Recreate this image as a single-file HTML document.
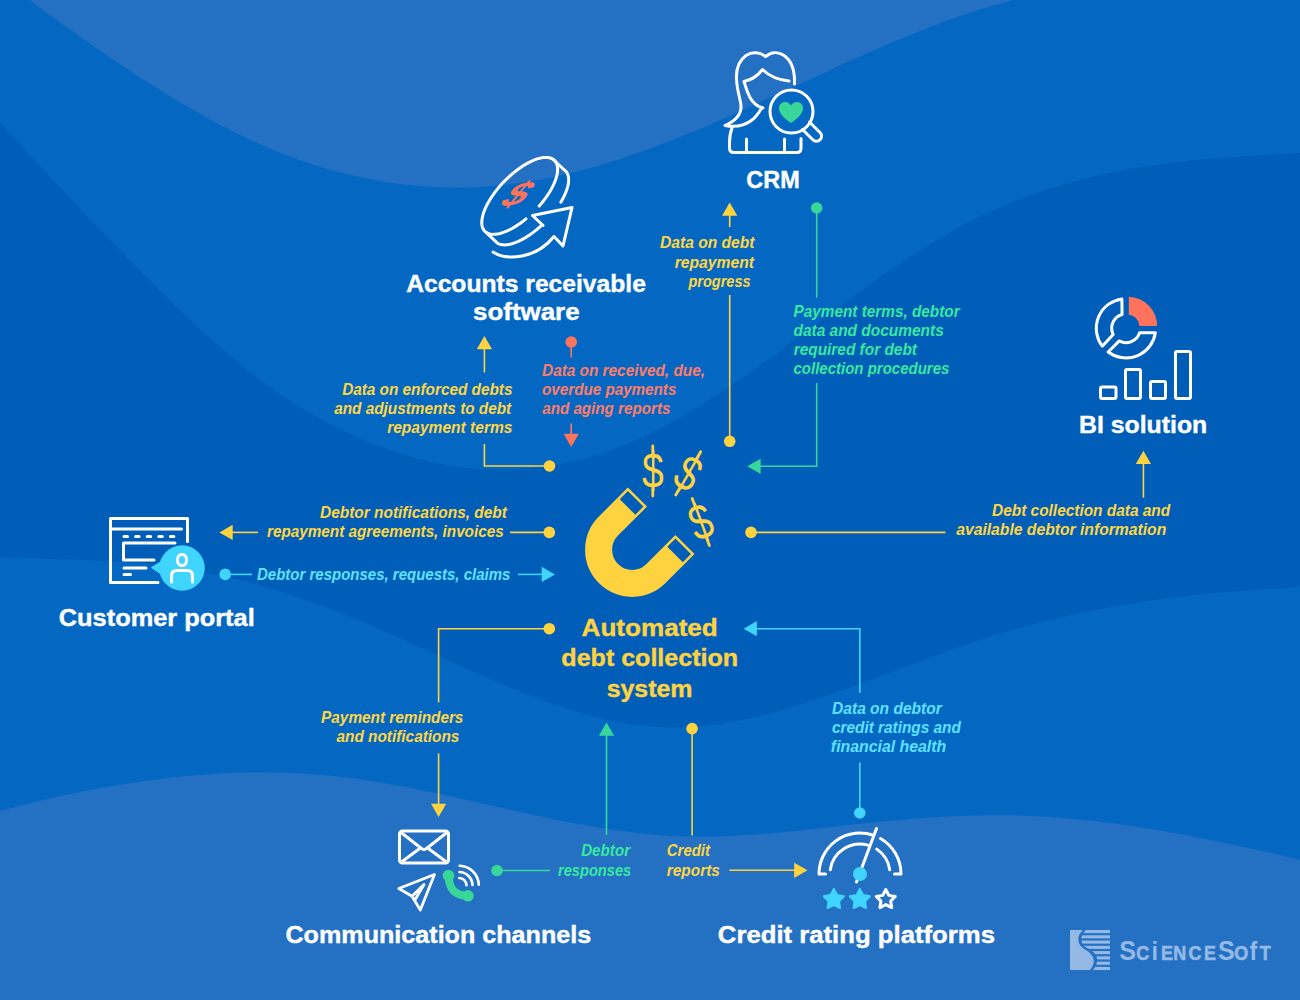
<!DOCTYPE html>
<html lang="en">
<head>
<meta charset="utf-8">
<title>Automated debt collection system</title>
<style>
html,body{margin:0;padding:0;background:#0468c3;}
body{width:1300px;height:1000px;overflow:hidden;}
svg{display:block;}
.h{font-family:"Liberation Sans",sans-serif;font-weight:bold;stroke-width:0.4px;}
.l{font-family:"Liberation Sans",sans-serif;font-weight:bold;font-style:italic;stroke-width:0;}
</style>
</head>
<body>
<svg width="1300" height="1000" viewBox="0 0 1300 1000">
<g id="bg">
<rect width="1300" height="1000" fill="#0468c3"/>
<path d="M-12.0,-30.0 C-8.7,-27.6 1.4,-20.3 8.0,-15.4 C14.7,-10.5 21.4,-5.7 28.1,-0.8 C34.8,4.1 41.4,8.9 48.1,13.7 C54.8,18.6 61.5,23.4 68.1,28.1 C74.8,32.9 81.5,37.6 88.2,42.3 C94.9,47.0 101.5,51.6 108.2,56.2 C114.9,60.7 121.6,65.3 128.3,69.7 C134.9,74.1 141.6,78.5 148.3,82.8 C155.0,87.0 161.7,91.2 168.3,95.3 C175.0,99.4 181.7,103.4 188.4,107.3 C195.0,111.2 201.7,115.0 208.4,118.6 C215.1,122.3 221.8,125.8 228.4,129.2 C235.1,132.6 241.8,135.9 248.5,139.0 C255.2,142.2 261.8,145.2 268.5,148.0 C275.2,150.8 281.9,153.5 288.6,156.0 C295.2,158.5 301.9,160.9 308.6,163.1 C315.3,165.3 322.0,167.4 328.6,169.3 C335.3,171.2 342.0,173.0 348.7,174.6 C355.3,176.2 362.0,177.7 368.7,179.0 C375.4,180.3 382.1,181.5 388.7,182.5 C395.4,183.5 402.1,184.4 408.8,185.1 C415.5,185.8 422.1,186.3 428.8,186.7 C435.5,187.2 442.2,187.4 448.9,187.5 C455.5,187.6 462.2,187.6 468.9,187.4 C475.6,187.2 482.2,186.9 488.9,186.4 C495.6,185.9 502.3,185.3 509.0,184.5 C515.6,183.7 522.3,182.7 529.0,181.7 C535.7,180.6 542.4,179.4 549.0,178.0 C555.7,176.6 562.4,175.1 569.1,173.5 C575.8,171.9 582.4,170.2 589.1,168.3 C595.8,166.5 602.5,164.5 609.1,162.4 C615.8,160.3 622.5,158.2 629.2,155.9 C635.9,153.6 642.5,151.3 649.2,148.8 C655.9,146.4 662.6,143.8 669.3,141.2 C675.9,138.6 682.6,136.0 689.3,133.2 C696.0,130.5 702.7,127.7 709.3,124.9 C716.0,122.0 722.7,119.1 729.4,116.2 C736.0,113.2 742.7,110.2 749.4,107.2 C756.1,104.2 762.8,101.2 769.4,98.1 C776.1,95.0 782.8,91.9 789.5,88.8 C796.2,85.7 802.8,82.6 809.5,79.5 C816.2,76.4 822.9,73.3 829.6,70.2 C836.2,67.2 842.9,64.1 849.6,61.1 C856.3,58.1 863.0,55.1 869.6,52.1 C876.3,49.2 883.0,46.3 889.7,43.5 C896.3,40.6 903.0,37.9 909.7,35.2 C916.4,32.5 923.1,29.8 929.7,27.3 C936.4,24.7 943.1,22.2 949.8,19.8 C956.5,17.4 963.1,15.1 969.8,12.9 C976.5,10.7 983.2,8.6 989.9,6.6 C996.5,4.6 1003.2,2.7 1009.9,0.9 C1016.6,-0.9 1023.2,-2.6 1029.9,-4.2 C1036.6,-5.7 1043.3,-7.2 1050.0,-8.5 C1056.6,-9.8 1066.7,-11.5 1070.0,-12.1 Z" fill="#2470c3"/>
<path d="M0.0,122.6 C3.3,126.2 13.3,137.3 20.0,144.6 C26.7,151.9 33.3,159.1 40.0,166.2 C46.7,173.4 53.3,180.5 60.0,187.6 C66.7,194.6 73.3,201.6 80.0,208.6 C86.7,215.6 93.3,222.6 100.0,229.5 C106.7,236.4 113.3,243.3 120.0,250.1 C126.7,256.9 133.3,263.7 140.0,270.4 C146.7,277.1 153.3,283.8 160.0,290.4 C166.7,297.0 173.3,303.6 180.0,310.0 C186.7,316.4 193.3,322.8 200.0,329.0 C206.7,335.2 213.3,341.3 220.0,347.1 C226.7,352.9 233.3,358.6 240.0,364.1 C246.7,369.5 253.3,374.7 260.0,379.7 C266.7,384.6 273.3,389.4 280.0,393.9 C286.7,398.5 293.3,402.8 300.0,406.9 C306.7,411.0 313.3,414.9 320.0,418.6 C326.7,422.3 333.3,425.8 340.0,429.1 C346.7,432.5 353.3,435.6 360.0,438.5 C366.7,441.4 373.3,444.1 380.0,446.6 C386.7,449.1 393.3,451.4 400.0,453.5 C406.7,455.6 413.3,457.6 420.0,459.2 C426.7,460.9 433.3,462.4 440.0,463.7 C446.7,465.0 453.3,466.1 460.0,466.9 C466.7,467.8 473.3,468.5 480.0,468.9 C486.7,469.4 493.3,469.6 500.0,469.6 C506.7,469.6 513.3,469.5 520.0,469.1 C526.7,468.7 533.3,468.0 540.0,467.2 C546.7,466.4 553.3,465.3 560.0,464.1 C566.7,462.8 573.3,461.3 580.0,459.6 C586.7,457.9 593.3,456.0 600.0,453.9 C606.7,451.8 613.3,449.4 620.0,446.8 C626.7,444.2 633.3,441.4 640.0,438.4 C646.7,435.4 653.3,432.1 660.0,428.7 C666.7,425.3 673.3,421.6 680.0,417.8 C686.7,414.0 693.3,410.0 700.0,405.9 C706.7,401.7 713.3,397.5 720.0,393.1 C726.7,388.7 733.3,384.1 740.0,379.5 C746.7,374.9 753.3,370.2 760.0,365.4 C766.7,360.6 773.3,355.8 780.0,350.9 C786.7,346.0 793.3,341.0 800.0,336.1 C806.7,331.2 813.3,326.2 820.0,321.2 C826.7,316.2 833.3,311.3 840.0,306.4 C846.7,301.4 853.3,296.5 860.0,291.7 C866.7,286.9 873.3,282.1 880.0,277.4 C886.7,272.7 893.3,268.1 900.0,263.6 C906.7,259.1 913.3,254.7 920.0,250.5 C926.7,246.2 933.3,242.1 940.0,238.2 C946.7,234.2 953.3,230.4 960.0,226.8 C966.7,223.2 973.3,219.8 980.0,216.6 C986.7,213.3 993.3,210.3 1000.0,207.4 C1006.7,204.5 1013.3,201.7 1020.0,199.2 C1026.7,196.6 1033.3,194.2 1040.0,191.9 C1046.7,189.6 1053.3,187.5 1060.0,185.5 C1066.7,183.5 1073.3,181.6 1080.0,179.9 C1086.7,178.2 1093.3,176.5 1100.0,175.0 C1106.7,173.5 1113.3,172.1 1120.0,170.9 C1126.7,169.6 1133.3,168.4 1140.0,167.3 C1146.7,166.2 1153.3,165.2 1160.0,164.3 C1166.7,163.3 1173.3,162.5 1180.0,161.7 C1186.7,161.0 1193.3,160.3 1200.0,159.6 C1206.7,159.0 1213.3,158.4 1220.0,157.9 C1226.7,157.3 1233.3,156.9 1240.0,156.4 C1246.7,156.0 1253.3,155.6 1260.0,155.2 C1266.7,154.8 1273.3,154.4 1280.0,154.1 C1286.7,153.8 1296.7,153.3 1300.0,153.1 L1300,586 C1296.7,587.7 1286.7,588.1 1280.0,588.4 C1273.3,588.7 1266.7,589.1 1260.0,589.5 C1253.3,589.9 1246.7,590.4 1240.0,590.9 C1233.3,591.4 1226.7,591.9 1220.0,592.5 C1213.3,593.1 1206.7,593.8 1200.0,594.5 C1193.3,595.2 1186.7,595.9 1180.0,596.7 C1173.3,597.5 1166.7,598.4 1160.0,599.3 C1153.3,600.2 1146.7,601.2 1140.0,602.2 C1133.3,603.3 1126.7,604.4 1120.0,605.5 C1113.3,606.7 1106.7,607.9 1100.0,609.2 C1093.3,610.5 1086.7,611.8 1080.0,613.2 C1073.3,614.7 1066.7,616.1 1060.0,617.7 C1053.3,619.3 1046.7,620.9 1040.0,622.6 C1033.3,624.3 1026.7,626.1 1020.0,627.9 C1013.3,629.8 1006.7,631.7 1000.0,633.7 C993.3,635.7 986.7,637.8 980.0,640.0 C973.3,642.1 966.7,644.4 960.0,646.7 C953.3,649.0 946.7,651.4 940.0,653.8 C933.3,656.2 926.7,658.7 920.0,661.2 C913.3,663.6 906.7,666.2 900.0,668.7 C893.3,671.2 886.7,673.7 880.0,676.2 C873.3,678.8 866.7,681.3 860.0,683.7 C853.3,686.2 846.7,688.6 840.0,691.0 C833.3,693.4 826.7,695.8 820.0,698.0 C813.3,700.3 806.7,702.5 800.0,704.6 C793.3,706.7 786.7,708.8 780.0,710.7 C773.3,712.6 766.7,714.4 760.0,716.0 C753.3,717.6 746.7,719.2 740.0,720.5 C733.3,721.8 726.7,723.0 720.0,724.0 C713.3,725.0 706.7,725.8 700.0,726.4 C693.3,726.9 686.7,727.3 680.0,727.4 C673.3,727.6 666.7,727.4 660.0,727.1 C653.3,726.7 646.7,726.1 640.0,725.3 C633.3,724.5 626.7,723.4 620.0,722.2 C613.3,721.0 606.7,719.5 600.0,717.9 C593.3,716.3 586.7,714.5 580.0,712.6 C573.3,710.7 566.7,708.6 560.0,706.3 C553.3,704.1 546.7,701.7 540.0,699.3 C533.3,696.8 526.7,694.2 520.0,691.5 C513.3,688.9 506.7,686.1 500.0,683.3 C493.3,680.4 486.7,677.5 480.0,674.6 C473.3,671.6 466.7,668.6 460.0,665.6 C453.3,662.6 446.7,659.5 440.0,656.4 C433.3,653.4 426.7,650.3 420.0,647.3 C413.3,644.2 406.7,641.2 400.0,638.2 C393.3,635.2 386.7,632.2 380.0,629.3 C373.3,626.5 366.7,623.6 360.0,620.8 C353.3,618.1 346.7,615.4 340.0,612.7 C333.3,610.1 326.7,607.5 320.0,605.1 C313.3,602.6 306.7,600.2 300.0,597.9 C293.3,595.6 286.7,593.4 280.0,591.3 C273.3,589.2 266.7,587.2 260.0,585.3 C253.3,583.4 246.7,581.6 240.0,579.9 C233.3,578.2 226.7,576.7 220.0,575.2 C213.3,573.8 206.7,572.5 200.0,571.3 C193.3,570.1 186.7,569.0 180.0,568.1 C173.3,567.1 166.7,566.3 160.0,565.5 C153.3,564.7 146.7,564.1 140.0,563.5 C133.3,562.9 126.7,562.4 120.0,561.9 C113.3,561.5 106.7,561.1 100.0,560.7 C93.3,560.4 86.7,560.1 80.0,559.8 C73.3,559.6 66.7,559.4 60.0,559.2 C53.3,558.9 46.7,558.8 40.0,558.6 C33.3,558.4 26.7,558.2 20.0,558.0 C13.3,557.8 3.3,557.5 0.0,557.4 Z" fill="#005eb8"/>
<path d="M0.0,810.8 C3.3,810.0 13.3,807.4 20.0,805.7 C26.7,804.0 33.3,802.4 40.0,800.8 C46.7,799.3 53.3,797.8 60.0,796.3 C66.7,794.9 73.3,793.5 80.0,792.1 C86.7,790.8 93.3,789.5 100.0,788.3 C106.7,787.0 113.3,785.9 120.0,784.8 C126.7,783.7 133.3,782.6 140.0,781.7 C146.7,780.7 153.3,779.8 160.0,779.0 C166.7,778.2 173.3,777.4 180.0,776.8 C186.7,776.1 193.3,775.5 200.0,775.0 C206.7,774.4 213.3,774.0 220.0,773.6 C226.7,773.3 233.3,773.0 240.0,772.8 C246.7,772.6 253.3,772.5 260.0,772.5 C266.7,772.5 273.3,772.6 280.0,772.7 C286.7,772.9 293.3,773.1 300.0,773.5 C306.7,773.9 313.3,774.3 320.0,774.9 C326.7,775.4 333.3,776.1 340.0,776.8 C346.7,777.5 353.3,778.4 360.0,779.3 C366.7,780.3 373.3,781.3 380.0,782.4 C386.7,783.5 393.3,784.7 400.0,786.0 C406.7,787.2 413.3,788.5 420.0,789.9 C426.7,791.2 433.3,792.6 440.0,794.0 C446.7,795.5 453.3,796.9 460.0,798.4 C466.7,799.9 473.3,801.4 480.0,802.9 C486.7,804.4 493.3,806.0 500.0,807.5 C506.7,809.0 513.3,810.5 520.0,812.0 C526.7,813.4 533.3,814.9 540.0,816.3 C546.7,817.8 553.3,819.2 560.0,820.5 C566.7,821.8 573.3,823.1 580.0,824.3 C586.7,825.6 593.3,826.7 600.0,827.8 C606.7,828.9 613.3,829.9 620.0,830.8 C626.7,831.8 633.3,832.6 640.0,833.3 C646.7,834.0 653.3,834.7 660.0,835.2 C666.7,835.7 673.3,836.1 680.0,836.3 C686.7,836.6 693.3,836.7 700.0,836.7 C706.7,836.7 713.3,836.6 720.0,836.4 C726.7,836.2 733.3,835.9 740.0,835.5 C746.7,835.1 753.3,834.6 760.0,834.1 C766.7,833.6 773.3,833.0 780.0,832.4 C786.7,831.7 793.3,831.1 800.0,830.4 C806.7,829.7 813.3,828.9 820.0,828.2 C826.7,827.4 833.3,826.7 840.0,826.0 C846.7,825.2 853.3,824.5 860.0,823.8 C866.7,823.1 873.3,822.4 880.0,821.7 C886.7,821.1 893.3,820.5 900.0,819.9 C906.7,819.3 913.3,818.8 920.0,818.3 C926.7,817.8 933.3,817.4 940.0,817.0 C946.7,816.6 953.3,816.3 960.0,816.0 C966.7,815.8 973.3,815.6 980.0,815.5 C986.7,815.3 993.3,815.3 1000.0,815.3 C1006.7,815.3 1013.3,815.4 1020.0,815.6 C1026.7,815.8 1033.3,816.1 1040.0,816.5 C1046.7,816.8 1053.3,817.3 1060.0,817.8 C1066.7,818.3 1073.3,818.9 1080.0,819.5 C1086.7,820.2 1093.3,820.9 1100.0,821.7 C1106.7,822.5 1113.3,823.4 1120.0,824.3 C1126.7,825.2 1133.3,826.2 1140.0,827.3 C1146.7,828.3 1153.3,829.4 1160.0,830.5 C1166.7,831.7 1173.3,832.9 1180.0,834.1 C1186.7,835.3 1193.3,836.6 1200.0,837.9 C1206.7,839.2 1213.3,840.6 1220.0,842.0 C1226.7,843.3 1233.3,844.8 1240.0,846.2 C1246.7,847.7 1253.3,849.1 1260.0,850.6 C1266.7,852.1 1273.3,853.6 1280.0,855.2 C1286.7,856.7 1296.7,859.0 1300.0,859.8 L1300,1000 L0,1000 Z" fill="#2470c3"/>
</g>
<g id="connectors">
<circle cx="549.5" cy="466.0" r="5.8" fill="#ffd340"/>
<path d="M549.5,466.0 L484.4,466.0 L484.4,444.0" fill="none" stroke="#ffd340" stroke-width="1.6"/>
<path d="M484.4,372.5 L484.4,348.0" fill="none" stroke="#ffd340" stroke-width="1.6"/>
<polygon points="484.4,336.0 476.8,349.3 492.0,349.3" fill="#ffd340"/>
<circle cx="571.2" cy="342.0" r="5.8" fill="#ff735d"/>
<path d="M571.2,342.0 L571.2,357.4" fill="none" stroke="#ff735d" stroke-width="1.6"/>
<path d="M571.2,423.4 L571.2,435.0" fill="none" stroke="#ff735d" stroke-width="1.6"/>
<polygon points="571.2,447.0 563.6,433.7 578.8,433.7" fill="#ff735d"/>
<circle cx="729.7" cy="441.3" r="5.8" fill="#ffd340"/>
<path d="M729.7,441.3 L729.7,295.0" fill="none" stroke="#ffd340" stroke-width="1.6"/>
<path d="M729.7,227.0 L729.7,215.0" fill="none" stroke="#ffd340" stroke-width="1.6"/>
<polygon points="729.7,202.5 722.1,215.8 737.3,215.8" fill="#ffd340"/>
<circle cx="816.7" cy="208.0" r="5.8" fill="#38d698"/>
<path d="M816.7,208.0 L816.7,297.5" fill="none" stroke="#38d698" stroke-width="1.6"/>
<path d="M816.7,383.0 L816.7,466.3 L760.0,466.3" fill="none" stroke="#38d698" stroke-width="1.6"/>
<polygon points="747.3,466.3 760.6,458.7 760.6,473.9" fill="#38d698"/>
<circle cx="549.3" cy="532.4" r="5.8" fill="#ffd340"/>
<path d="M549.3,532.4 L510.0,532.4" fill="none" stroke="#ffd340" stroke-width="1.6"/>
<path d="M258.0,532.4 L232.0,532.4" fill="none" stroke="#ffd340" stroke-width="1.6"/>
<polygon points="219.4,532.4 232.7,524.8 232.7,540.0" fill="#ffd340"/>
<circle cx="225.2" cy="574.4" r="5.8" fill="#40d5ff"/>
<path d="M225.2,574.4 L252.0,574.4" fill="none" stroke="#40d5ff" stroke-width="1.6"/>
<path d="M518.0,574.4 L543.0,574.4" fill="none" stroke="#40d5ff" stroke-width="1.6"/>
<polygon points="555.0,574.4 541.7,566.8 541.7,582.0" fill="#40d5ff"/>
<circle cx="751.0" cy="532.4" r="5.8" fill="#ffd340"/>
<path d="M751.0,532.4 L945.5,532.4" fill="none" stroke="#ffd340" stroke-width="1.6"/>
<path d="M1143.4,497.7 L1143.4,463.0" fill="none" stroke="#ffd340" stroke-width="1.6"/>
<polygon points="1143.4,450.8 1135.8,464.1 1151.0,464.1" fill="#ffd340"/>
<circle cx="549.3" cy="628.7" r="5.8" fill="#ffd340"/>
<path d="M549.3,628.7 L438.6,628.7 L438.6,702.4" fill="none" stroke="#ffd340" stroke-width="1.6"/>
<path d="M438.6,753.4 L438.6,805.0" fill="none" stroke="#ffd340" stroke-width="1.6"/>
<polygon points="438.6,817.0 431.0,803.7 446.2,803.7" fill="#ffd340"/>
<circle cx="497.0" cy="870.5" r="5.8" fill="#38d698"/>
<path d="M497.0,870.5 L550.0,870.5" fill="none" stroke="#38d698" stroke-width="1.6"/>
<path d="M606.5,835.0 L606.5,735.0" fill="none" stroke="#38d698" stroke-width="1.6"/>
<polygon points="606.5,722.5 598.9,735.8 614.1,735.8" fill="#38d698"/>
<circle cx="692.1" cy="728.6" r="5.8" fill="#ffd340"/>
<path d="M692.1,728.6 L692.1,835.5" fill="none" stroke="#ffd340" stroke-width="1.6"/>
<path d="M729.5,870.3 L795.0,870.3" fill="none" stroke="#ffd340" stroke-width="1.6"/>
<polygon points="807.5,870.3 794.2,862.7 794.2,877.9" fill="#ffd340"/>
<circle cx="859.8" cy="813.0" r="5.8" fill="#40d5ff"/>
<path d="M859.8,813.0 L859.8,762.5" fill="none" stroke="#40d5ff" stroke-width="1.6"/>
<path d="M859.8,692.8 L859.8,628.7 L756.0,628.7" fill="none" stroke="#40d5ff" stroke-width="1.6"/>
<polygon points="743.6,628.7 756.9,621.1 756.9,636.3" fill="#40d5ff"/>
</g>
<g id="icons">
<g id="coin" fill="none" stroke="#fff" stroke-width="3" stroke-linecap="round" stroke-linejoin="round">
<path d="M525.98,218.88 L523.21,221.10 L520.41,223.18 L517.61,225.11 L514.82,226.88 L512.06,228.48 L509.34,229.90 L506.67,231.14 L504.08,232.18 L501.57,233.03 L499.16,233.68 L496.86,234.11 L494.69,234.34 L492.65,234.37 L490.77,234.18 L489.03,233.78 L487.47,233.18 L486.08,232.37 L484.88,231.36 L483.86,230.16 L483.04,228.77 L482.42,227.21 L482.01,225.47 L481.80,223.57 L481.80,221.52 L482.00,219.34 L482.41,217.02 L483.02,214.59 L483.83,212.05 L484.84,209.43 L486.04,206.74 L487.42,203.98 L488.98,201.18 L490.70,198.35 L492.59,195.51 L494.62,192.67 L496.79,189.85 L499.08,187.06 L501.48,184.32 L503.99,181.65 L506.58,179.05 L509.24,176.54 L511.96,174.14 L514.72,171.86 L517.51,169.70 L520.31,167.69 L523.11,165.84 L525.89,164.15 L528.63,162.63 L531.33,161.29 L533.96,160.15 L536.52,159.19 L538.98,158.44 L541.34,157.89 L543.58,157.55 L545.69,157.42 L547.66,157.50 L549.47,157.78 L551.13,158.28 L552.61,158.98 L553.91,159.88 L555.02,160.98 L555.95,162.27 L556.67,163.74 L557.20,165.39 L557.52,167.20 L557.63,169.18 L557.53,171.29 L557.23,173.54 L556.73,175.92 L556.02,178.40 L555.12,180.97 L554.02,183.63 L552.73,186.36 L551.27,189.14 L549.63,191.95 L547.83,194.79 L545.87,197.63 L543.78,200.46 L541.55,203.27 L539.20,206.04"/>
<path d="M553.02,159.23 L564.02,169.73 L564.69,170.21 L565.31,170.74 L565.88,171.32 L566.40,171.95 L566.87,172.64 L567.28,173.37 L567.64,174.15 L567.94,174.98 L568.19,175.86 L568.38,176.78 L568.52,177.74 L568.60,178.75 L568.63,179.80 L568.60,180.89 L568.51,182.01 L568.37,183.17 L568.18,184.37 L567.92,185.59 L567.62,186.85 L567.26,188.14 L566.84,189.45 L566.37,190.79 L565.85,192.15 L565.28,193.54 L564.65,194.94 L563.98,196.36 L563.26,197.79 L562.49,199.24 L561.67,200.69 L560.81,202.16"/>
<path d="M542.13,224.86 L540.88,226.02 L539.61,227.15 L538.33,228.25 L537.05,229.33 L535.76,230.38 L534.46,231.40 L533.16,232.40 L531.85,233.36 L530.54,234.29 L529.24,235.19 L527.93,236.05 L526.63,236.88 L525.33,237.67 L524.04,238.42 L522.76,239.14 L521.48,239.82 L520.22,240.46 L518.97,241.05 L517.74,241.61 L516.51,242.12 L515.31,242.60 L514.13,243.02 L512.96,243.41 L511.81,243.75 L510.69,244.05 L509.59,244.30 L508.52,244.51 L507.47,244.67 L506.45,244.79 L505.46,244.86 L504.50,244.88 L503.57,244.86 L502.67,244.80 L501.81,244.68 L500.98,244.53 L500.19,244.32 L499.43,244.08 L498.71,243.78 L498.02,243.45 L497.38,243.07 L486.38,232.57"/>
<path d="M493,252 C507,261 536,259 554,236.5 L563,246 L572,207.5 L532.5,215.5 L543,225.5"/>
</g>
<text transform="matrix(1.22,-0.15,-0.8,0.98,518.5,193.6)" x="0" y="12.4" text-anchor="middle" font-family="Liberation Sans, sans-serif" font-weight="bold" font-size="35" fill="#ff735d">$</text>
<g id="crm" fill="none" stroke="#fff" stroke-width="3" stroke-linecap="round" stroke-linejoin="round">
<path d="M794.5,84 C795,70 792,61 784,55.5 C778,51.5 771,52 765.5,56.5 C760,52 752,51.5 746,55.5 C739,60.5 736,69 736.5,79 C737,92 741,100 741,107 C741,115 734,121.5 725,125.5 C735,127.5 745,125.5 752,120 C757,116 760,111 762,107.5"/>
<path d="M789,81 C778,80 768,75 762.5,69.5 C758,75.5 751,80 744,81.5 C746,88 747.5,93 750,97.5 C753,103 757,106.5 763,108"/>
<path d="M732,128 C730,133 729.5,138 729.5,143 L729.5,148 Q729.5,152.5 734,152.5 L797,152.5 Q801,152.5 801,148 L801,138.5"/>
<path d="M746.5,139 L746.5,152.5 M784.5,139 L784.5,152.5"/>
<circle cx="791.5" cy="111.5" r="21.5"/>
<path d="M809.5,122 L820,132.5 A5.1,5.1 0 0 1 812.8,139.8 L802.5,129.5"/>
</g>
<path d="M791,123 C785,119 779,114 779,108 C779,104.5 781.8,102 785.2,102 C787.6,102 789.8,103.3 791,105.4 C792.2,103.3 794.4,102 796.8,102 C800.2,102 803,104.5 803,108 C803,114 797,119 791,123 Z" fill="#38d698"/>
<g id="bi" fill="none" stroke="#fff" stroke-width="3" stroke-linecap="round" stroke-linejoin="round" stroke-linejoin="round">
<path d="M1121.87,298.89 A29.7,29.7 0 0 0 1102.28,346.17 L1113.15,334.57 A14.3,14.3 0 0 1 1122.06,314.55 Z"/>
<path d="M1155.37,332.69 A29.7,29.7 0 0 1 1108.13,352.02 L1119.29,340.93 A14.3,14.3 0 0 0 1139.60,332.72 Z"/>
<rect x="1100.5" y="387.0" width="15.5" height="11.5" rx="1.5"/>
<rect x="1125.5" y="369.5" width="15.0" height="29.0" rx="1.5"/>
<rect x="1150.5" y="381.5" width="15.0" height="17.0" rx="1.5"/>
<rect x="1175.5" y="351.5" width="15.0" height="47.0" rx="1.5"/>
</g>
<path d="M1128.80,296.81 A29.2,29.2 0 0 1 1157.2,326.0 L1139.2,326.0 A11.2,11.2 0 0 0 1128.80,314.83 Z" fill="#ff735d"/>
<g id="portal" fill="none" stroke="#fff" stroke-width="3" stroke-linecap="round" stroke-linejoin="round">
<path d="M187.5,541.5 L187.5,518.5 L110.5,518.5 L110.5,582.5 L158,582.5"/>
<path d="M110.5,529 L181.5,529"/>
<path d="M124,536.5 L175,536.5" stroke-dasharray="3.5,8.1"/>
<path d="M175,543 L123.5,543 L123.5,560 L154,560"/>
<path d="M124,568 L146,568 M124,574.5 L130.5,574.5"/>
</g>
<path d="M151.5,567.5 L161.5,561.5 L161.5,574.5 Z" fill="#40d5ff" stroke="#40d5ff" stroke-width="1" stroke-linejoin="round"/>
<circle cx="182" cy="568" r="22.8" fill="#40d5ff"/>
<g fill="none" stroke="#fff" stroke-width="3" stroke-linecap="round" stroke-linejoin="round">
<ellipse cx="182" cy="560" rx="4.6" ry="5.6"/>
<path d="M171.6,582 L171.6,575.5 Q171.6,570.5 176.6,570.5 L187.4,570.5 Q192.4,570.5 192.4,575.5 L192.4,582"/>
</g>
<g id="magnet" transform="translate(632.2,549.8) rotate(45)">
<path d="M-33.6,-41.0 L-33.6,0 A33.6,33.6 0 0 0 33.6,0 L33.6,-41.0" fill="none" stroke="#ffd340" stroke-width="27"/>
<rect x="-44.6" y="-38.5" width="22.0" height="11.5" fill="#005eb8"/>
<rect x="22.6" y="-38.5" width="22.0" height="11.5" fill="#005eb8"/>
</g>
<text transform="translate(652.8,471.0) rotate(0) scale(0.78,1)" x="0" y="17" text-anchor="middle" font-family="Liberation Sans, sans-serif" font-size="50" fill="#ffd340">$</text>
<path transform="translate(652.8,471.0) rotate(0)" d="M0,-25 L0,-16 M0,16 L0,25" stroke="#ffd340" stroke-width="2.8" stroke-linecap="round" fill="none"/>
<text transform="translate(688.2,473.4) rotate(30) scale(0.78,1)" x="0" y="17" text-anchor="middle" font-family="Liberation Sans, sans-serif" font-size="50" fill="#ffd340">$</text>
<path transform="translate(688.2,473.4) rotate(30)" d="M0,-25 L0,-16 M0,16 L0,25" stroke="#ffd340" stroke-width="2.8" stroke-linecap="round" fill="none"/>
<text transform="translate(700.8,522.0) rotate(-20) scale(0.78,1)" x="0" y="17" text-anchor="middle" font-family="Liberation Sans, sans-serif" font-size="50" fill="#ffd340">$</text>
<path transform="translate(700.8,522.0) rotate(-20)" d="M0,-25 L0,-16 M0,16 L0,25" stroke="#ffd340" stroke-width="2.8" stroke-linecap="round" fill="none"/>
<g id="comm" fill="none" stroke="#fff" stroke-width="3" stroke-linecap="round" stroke-linejoin="round">
<rect x="399.5" y="831" width="49" height="32" rx="3"/>
<path d="M401,832.5 L421.5,848.5 Q424,850.5 426.5,848.5 L447,832.5 M401.5,862 L419,849 M446.5,862 L429,849"/>
<path d="M434.5,874.5 L398.8,888.5 L412,896.3 L420.3,910 Z M412,896.3 L424,884.5 L415.2,899.5" stroke-width="2.8"/>
</g>
<path d="M448.6,875 Q448.8,896.3 468,895.6" fill="none" stroke="#38d698" stroke-width="8" stroke-linecap="round"/>
<circle cx="448.5" cy="875.5" r="5.8" fill="#38d698"/><circle cx="468" cy="895.8" r="5.8" fill="#38d698"/>
<g fill="none" stroke="#fff" stroke-width="2.6" stroke-linecap="round">
<path d="M459.26,878.00 A7.5,7.5 0 0 1 466.50,885.24"/>
<path d="M459.47,872.01 A13.5,13.5 0 0 1 472.49,885.03"/>
<path d="M459.69,865.71 A19.8,19.8 0 0 1 478.79,884.81"/>
</g>
<g id="credit" fill="none" stroke="#fff" stroke-width="3" stroke-linecap="round" stroke-linejoin="round">
<path d="M825.5,874.0 L819.0,874.0 A41,41 0 0 1 873.35,835.23"/>
<path d="M880.50,838.49 A41,41 0 0 1 901.0,874.0 L894.5,874.0"/>
<path d="M830.29,869.82 A30,30 0 0 1 868.77,845.31"/>
<path d="M876.78,849.13 A30,30 0 0 1 889.71,869.82"/>
<path d="M856.5,882 L876.5,828.5"/>
</g>
<circle cx="860" cy="874" r="7" fill="#40d5ff"/>
<path d="M833.80,888.90 L837.09,894.97 L843.88,896.22 L839.13,901.23 L840.03,908.08 L833.80,905.10 L827.57,908.08 L828.47,901.23 L823.72,896.22 L830.51,894.97 Z" fill="#40d5ff" stroke="#40d5ff" stroke-width="2" stroke-linejoin="round"/>
<path d="M859.80,888.90 L863.09,894.97 L869.88,896.22 L865.13,901.23 L866.03,908.08 L859.80,905.10 L853.57,908.08 L854.47,901.23 L849.72,896.22 L856.51,894.97 Z" fill="#40d5ff" stroke="#40d5ff" stroke-width="2" stroke-linejoin="round"/>
<path d="M885.80,889.50 L888.80,895.37 L895.31,896.41 L890.65,901.08 L891.68,907.59 L885.80,904.60 L879.92,907.59 L880.95,901.08 L876.29,896.41 L882.80,895.37 Z" fill="none" stroke="#fff" stroke-width="3" stroke-linejoin="round"/>
<g id="logo" fill="#94b9e4">
<path d="M1070,930 L1083,930 C1076,936 1077,945 1085,949.5 C1094,954.5 1097,962 1090,970 L1070,970 Z"/>
<clipPath id="lc"><path d="M1086,930 L1110,930 L1110,970 L1093,970 C1100,962 1098,953 1088,948.5 C1080,945 1079,936 1086,930 Z"/></clipPath>
<g clip-path="url(#lc)">
<rect x="1074" y="930.00" width="36" height="3.1"/>
<rect x="1074" y="935.27" width="36" height="3.1"/>
<rect x="1074" y="940.54" width="36" height="3.1"/>
<rect x="1074" y="945.81" width="36" height="3.1"/>
<rect x="1074" y="951.08" width="36" height="3.1"/>
<rect x="1074" y="956.35" width="36" height="3.1"/>
<rect x="1074" y="961.62" width="36" height="3.1"/>
<rect x="1074" y="966.89" width="36" height="3.1"/>
</g>
</g>
<text transform="translate(1119.8,959.7) scale(0.9,1)" font-family="Liberation Sans, sans-serif" font-weight="bold" fill="#94b9e4"><tspan x="-0.6" font-size="28">S</tspan><tspan x="18.3" font-size="28.5" style="font-variant:small-caps" stroke="#94b9e4" stroke-width="0.6">c</tspan><tspan x="35.2" font-size="26">i</tspan><tspan x="45.7" font-size="28.5" style="font-variant:small-caps" stroke="#94b9e4" stroke-width="0.6">e</tspan><tspan x="59.5" font-size="28.5" style="font-variant:small-caps" stroke="#94b9e4" stroke-width="0.6">n</tspan><tspan x="76.4" font-size="28.5" style="font-variant:small-caps" stroke="#94b9e4" stroke-width="0.6">c</tspan><tspan x="93.6" font-size="28.5" style="font-variant:small-caps" stroke="#94b9e4" stroke-width="0.6">e</tspan><tspan x="109.1" font-size="28">S</tspan><tspan x="127.3" font-size="28.5" style="font-variant:small-caps" stroke="#94b9e4" stroke-width="0.6">o</tspan><tspan x="144.2" font-size="26">f</tspan><tspan x="155.4" font-size="28.5" style="font-variant:small-caps" stroke="#94b9e4" stroke-width="0.6">t</tspan></text>
</g>
<g id="text">
<text x="406.17" y="292.40" textLength="239.72" lengthAdjust="spacingAndGlyphs" class="h" font-size="24.4" fill="#fff" stroke="#fff">Accounts receivable</text>
<text x="473.03" y="319.60" textLength="106.60" lengthAdjust="spacingAndGlyphs" class="h" font-size="24.4" fill="#fff" stroke="#fff">software</text>
<text x="746.29" y="188.00" textLength="53.41" lengthAdjust="spacingAndGlyphs" class="h" font-size="24.4" fill="#fff" stroke="#fff">CRM</text>
<text x="1079.05" y="432.60" textLength="128.18" lengthAdjust="spacingAndGlyphs" class="h" font-size="24.4" fill="#fff" stroke="#fff">BI solution</text>
<text x="58.76" y="626.30" textLength="195.95" lengthAdjust="spacingAndGlyphs" class="h" font-size="24.4" fill="#fff" stroke="#fff">Customer portal</text>
<text x="581.60" y="635.50" textLength="136.21" lengthAdjust="spacingAndGlyphs" class="h" font-size="24.4" fill="#ffd340" stroke="#ffd340">Automated</text>
<text x="561.35" y="665.90" textLength="176.76" lengthAdjust="spacingAndGlyphs" class="h" font-size="24.4" fill="#ffd340" stroke="#ffd340">debt collection</text>
<text x="606.65" y="696.70" textLength="85.86" lengthAdjust="spacingAndGlyphs" class="h" font-size="24.4" fill="#ffd340" stroke="#ffd340">system</text>
<text x="285.47" y="943.20" textLength="305.73" lengthAdjust="spacingAndGlyphs" class="h" font-size="24.4" fill="#fff" stroke="#fff">Communication channels</text>
<text x="717.82" y="943.20" textLength="277.13" lengthAdjust="spacingAndGlyphs" class="h" font-size="24.4" fill="#fff" stroke="#fff">Credit rating platforms</text>
<text x="342.13" y="395.00" textLength="170.30" lengthAdjust="spacingAndGlyphs" class="l" font-size="16.4" fill="#ffd642" stroke="#ffd642">Data on enforced debts</text>
<text x="334.21" y="414.00" textLength="176.97" lengthAdjust="spacingAndGlyphs" class="l" font-size="16.4" fill="#ffd642" stroke="#ffd642">and adjustments to debt</text>
<text x="387.13" y="433.00" textLength="125.30" lengthAdjust="spacingAndGlyphs" class="l" font-size="16.4" fill="#ffd642" stroke="#ffd642">repayment terms</text>
<text x="542.11" y="376.10" textLength="162.82" lengthAdjust="spacingAndGlyphs" class="l" font-size="16.4" fill="#ff7c68" stroke="#ff7c68">Data on received, due,</text>
<text x="542.02" y="395.10" textLength="134.36" lengthAdjust="spacingAndGlyphs" class="l" font-size="16.4" fill="#ff7c68" stroke="#ff7c68">overdue payments</text>
<text x="542.22" y="414.10" textLength="128.17" lengthAdjust="spacingAndGlyphs" class="l" font-size="16.4" fill="#ff7c68" stroke="#ff7c68">and aging reports</text>
<text x="660.11" y="248.40" textLength="94.35" lengthAdjust="spacingAndGlyphs" class="l" font-size="16.4" fill="#ffd642" stroke="#ffd642">Data on debt</text>
<text x="674.76" y="267.50" textLength="79.21" lengthAdjust="spacingAndGlyphs" class="l" font-size="16.4" fill="#ffd642" stroke="#ffd642">repayment</text>
<text x="688.48" y="286.50" textLength="62.12" lengthAdjust="spacingAndGlyphs" class="l" font-size="16.4" fill="#ffd642" stroke="#ffd642">progress</text>
<text x="793.55" y="316.70" textLength="166.12" lengthAdjust="spacingAndGlyphs" class="l" font-size="16.4" fill="#38e8a0" stroke="#38e8a0">Payment terms, debtor</text>
<text x="793.48" y="335.60" textLength="150.31" lengthAdjust="spacingAndGlyphs" class="l" font-size="16.4" fill="#38e8a0" stroke="#38e8a0">data and documents</text>
<text x="793.67" y="354.60" textLength="123.33" lengthAdjust="spacingAndGlyphs" class="l" font-size="16.4" fill="#38e8a0" stroke="#38e8a0">required for debt</text>
<text x="793.47" y="373.70" textLength="155.90" lengthAdjust="spacingAndGlyphs" class="l" font-size="16.4" fill="#38e8a0" stroke="#38e8a0">collection procedures</text>
<text x="320.10" y="517.85" textLength="186.82" lengthAdjust="spacingAndGlyphs" class="l" font-size="16.4" fill="#ffd642" stroke="#ffd642">Debtor notifications, debt</text>
<text x="267.11" y="536.80" textLength="236.52" lengthAdjust="spacingAndGlyphs" class="l" font-size="16.4" fill="#ffd642" stroke="#ffd642">repayment agreements, invoices</text>
<text x="256.96" y="579.50" textLength="253.45" lengthAdjust="spacingAndGlyphs" class="l" font-size="16.4" fill="#5fe2ff" stroke="#5fe2ff">Debtor responses, requests, claims</text>
<text x="992.09" y="515.90" textLength="178.10" lengthAdjust="spacingAndGlyphs" class="l" font-size="16.4" fill="#ffd642" stroke="#ffd642">Debt collection data and</text>
<text x="956.22" y="534.80" textLength="210.06" lengthAdjust="spacingAndGlyphs" class="l" font-size="16.4" fill="#ffd642" stroke="#ffd642">available debtor information</text>
<text x="321.11" y="722.80" textLength="142.29" lengthAdjust="spacingAndGlyphs" class="l" font-size="16.4" fill="#ffd642" stroke="#ffd642">Payment reminders</text>
<text x="336.50" y="742.00" textLength="122.88" lengthAdjust="spacingAndGlyphs" class="l" font-size="16.4" fill="#ffd642" stroke="#ffd642">and notifications</text>
<text x="581.14" y="856.30" textLength="49.04" lengthAdjust="spacingAndGlyphs" class="l" font-size="16.4" fill="#38e8a0" stroke="#38e8a0">Debtor</text>
<text x="557.95" y="875.50" textLength="73.30" lengthAdjust="spacingAndGlyphs" class="l" font-size="16.4" fill="#38e8a0" stroke="#38e8a0">responses</text>
<text x="666.79" y="856.30" textLength="43.20" lengthAdjust="spacingAndGlyphs" class="l" font-size="16.4" fill="#ffd642" stroke="#ffd642">Credit</text>
<text x="666.81" y="875.50" textLength="53.03" lengthAdjust="spacingAndGlyphs" class="l" font-size="16.4" fill="#ffd642" stroke="#ffd642">reports</text>
<text x="832.11" y="713.60" textLength="109.68" lengthAdjust="spacingAndGlyphs" class="l" font-size="16.4" fill="#5fe2ff" stroke="#5fe2ff">Data on debtor</text>
<text x="832.02" y="732.60" textLength="128.78" lengthAdjust="spacingAndGlyphs" class="l" font-size="16.4" fill="#5fe2ff" stroke="#5fe2ff">credit ratings and</text>
<text x="830.86" y="751.70" textLength="115.31" lengthAdjust="spacingAndGlyphs" class="l" font-size="16.4" fill="#5fe2ff" stroke="#5fe2ff">financial health</text>
</g>
</svg>
</body>
</html>
